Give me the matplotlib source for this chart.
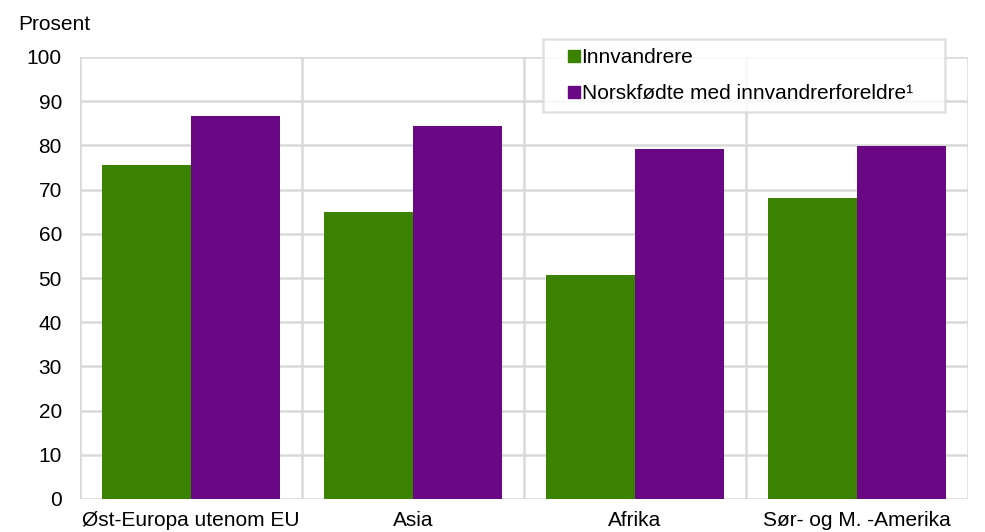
import matplotlib.pyplot as plt
import numpy as np
from matplotlib.lines import Line2D

plt.rcParams['font.family'] = ['Liberation Sans', 'DejaVu Sans']

# Data
categories = ["Øst-Europa utenom EU", "Asia", "Afrika", "Sør- og M. -Amerika"]
innvandrere = [75.6, 64.9, 50.7, 68.1]
norskfodte = [86.7, 84.4, 79.2, 79.8]
series_names = ["Innvandrere", "Norskfødte med innvandrerforeldre¹"]

green = "#3a8200"
purple = "#690785"
grid_col = "#d9d9d9"

fig = plt.figure(figsize=(9.85, 5.32), dpi=100)
ax = fig.add_axes([80/985, 1 - 499/532, (968-80)/985, (499-57)/532])

x = np.arange(len(categories))
w = 0.4
ax.bar(x - w/2, innvandrere, w, color=green, zorder=3)
ax.bar(x + w/2, norskfodte, w, color=purple, zorder=3)

ax.set_xlim(-0.5, len(categories) - 0.5)
ax.set_ylim(0, 100)
ax.set_yticks(range(0, 101, 10))
ax.set_xticks(x)
ax.set_xticklabels(categories)
ax.tick_params(length=0, labelsize=15, colors="black")
ax.tick_params(axis="y", pad=13)
ax.tick_params(axis="x", pad=9)

# gridlines
for yv in range(0, 101, 10):
    ax.axhline(yv, color=grid_col, lw=1.8, zorder=1)
for xv in np.arange(-0.5, len(categories), 1):
    ax.axvline(xv, color=grid_col, lw=1.8, zorder=1)
for s in ax.spines.values():
    s.set_visible(False)

fig.text(18/985, 1 - 25/532, "Prosent", fontsize=15, va="center", ha="left")

handles = [Line2D([], [], marker="s", ls="", color=green, markersize=8),
           Line2D([], [], marker="s", ls="", color=purple, markersize=8)]
leg = fig.legend(handles, series_names, loc="upper left",
                 bbox_to_anchor=(543/985, 1 - 109/532, (945-543)/985, 70/532),
                 mode="expand", fontsize=15, frameon=True, fancybox=False,
                 handlelength=2.1, handletextpad=-0.7, labelspacing=0.8,
                 borderpad=0.45, borderaxespad=0)
leg.get_frame().set_edgecolor(grid_col)
leg.get_frame().set_linewidth(1.8)

fig.savefig("out.png", dpi=100)
